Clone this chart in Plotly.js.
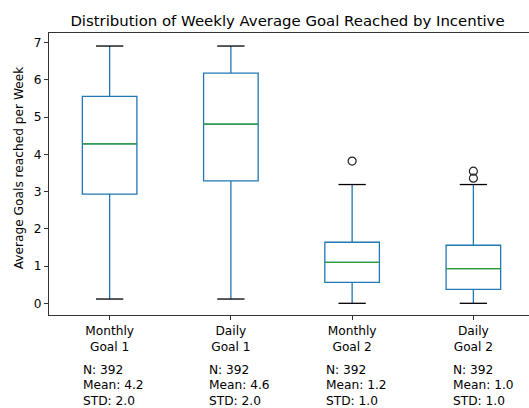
<!DOCTYPE html>
<html>
<head>
<meta charset="utf-8">
<script src="https://cdn.plot.ly/plotly-3.0.1.min.js"></script>
<style>
  html, body { margin: 0; padding: 0; overflow: hidden; background: #fff; }
  #chart { width: 540px; height: 408px; }
</style>
</head>
<body>
<div id="chart"></div>
<script>
// Weekly average goals reached, one box per incentive group
const categories = ["Monthly<br>Goal 1", "Daily<br>Goal 1", "Monthly<br>Goal 2", "Daily<br>Goal 2"];
const lowerWhisker = [0.115, 0.115, 0.0, 0.0];
const q1 = [2.93, 3.29, 0.564, 0.376];
const median = [4.28, 4.81, 1.10, 0.93];
const q3 = [5.56, 6.18, 1.64, 1.56];
const upperWhisker = [6.91, 6.91, 3.19, 3.19];
const outlierGroup = [3, 4, 4];
const outlierValue = [3.82, 3.55, 3.36];
const nObs = [392, 392, 392, 392];
const meanVal = [4.2, 4.6, 1.2, 1.0];
const stdVal = [2.0, 2.0, 1.0, 1.0];

const positions = categories.map((_, i) => i + 1);
const boxWidth = 0.45;

// horizontal segments centred on each box position
function segments(values, halfWidth) {
  const xs = [], ys = [];
  positions.forEach((p, i) => {
    xs.push(p - halfWidth, p + halfWidth, null);
    ys.push(values[i], values[i], null);
  });
  return { x: xs, y: ys };
}

const blue = '#1f77b4';
const green = '#2ca02c';
const lw = 1.3;

const boxes = {
  type: 'box',
  x: positions,
  q1: q1, median: median, q3: q3,
  lowerfence: lowerWhisker, upperfence: upperWhisker,
  width: boxWidth,
  whiskerwidth: 0,
  boxpoints: false,
  line: { color: blue, width: lw },
  fillcolor: 'rgba(0,0,0,0)',
  hoverinfo: 'skip',
  showlegend: false
};

const upperCaps = segments(upperWhisker, boxWidth / 4);
const lowerCaps = segments(lowerWhisker, boxWidth / 4);
const caps = {
  type: 'scatter', mode: 'lines',
  x: upperCaps.x.concat(lowerCaps.x),
  y: upperCaps.y.concat(lowerCaps.y),
  line: { color: '#000', width: lw },
  hoverinfo: 'skip', showlegend: false
};

const medSeg = segments(median, boxWidth / 2);
const medians = {
  type: 'scatter', mode: 'lines',
  x: medSeg.x, y: medSeg.y,
  line: { color: green, width: lw },
  hoverinfo: 'skip', showlegend: false
};

const fliers = {
  type: 'scatter', mode: 'markers',
  x: outlierGroup, y: outlierValue,
  marker: { symbol: 'circle-open', size: 8, color: '#222', line: { width: 1.2, color: '#222' } },
  hoverinfo: 'skip', showlegend: false
};

const font = { family: 'DejaVu Sans', size: 12.2, color: '#000' };

// plot area geometry (pixels) used to place free-floating labels
const W = 540, H = 408;
const M = { l: 49, r: 6, t: 33, b: 93 };
const plotH = H - M.t - M.b;
const plotW = W - M.l - M.r;
const yPaper = px => (H - M.b - px) / plotH;
const xPaper = px => (px - M.l) / plotW;

const statShift = [-28.6, -23.6, -28.3, -22.3];
const annotations = [];
positions.forEach((p, i) => {
  const lines = ['N: ' + nObs[i], 'Mean: ' + meanVal[i].toFixed(1), 'STD: ' + stdVal[i].toFixed(1)];
  lines.forEach((t, k) => {
    annotations.push({
      text: t, xref: 'x', yref: 'paper',
      x: p, y: yPaper(370 + 15.4 * k),
      xanchor: 'left', yanchor: 'middle', xshift: statShift[i],
      showarrow: false, font: font
    });
  });
});
annotations.push({
  text: 'Average Goals reached per Week',
  xref: 'paper', yref: 'paper',
  x: xPaper(19.3), y: yPaper(167),
  xanchor: 'center', yanchor: 'middle',
  textangle: -90, showarrow: false, font: font
});

const layout = {
  width: W, height: H,
  margin: M,
  paper_bgcolor: '#fff', plot_bgcolor: '#fff',
  font: font,
  title: {
    text: 'Distribution of Weekly Average Goal Reached by Incentive',
    font: { family: 'DejaVu Sans', size: 14.9, color: '#000' },
    xref: 'container', yref: 'container',
    x: 287.5 / W, y: 1 - 20.7 / H,
    xanchor: 'center', yanchor: 'middle'
  },
  xaxis: {
    range: [0.5, 4.5],
    tickmode: 'array', tickvals: positions, ticktext: categories,
    ticks: 'outside', ticklen: 4, tickwidth: 1, tickcolor: '#333',
    showline: true, linecolor: '#333', linewidth: 1, mirror: true,
    showgrid: false, zeroline: false,
    tickfont: font
  },
  yaxis: {
    range: [-0.314, 7.26],
    tickmode: 'array', tickvals: [0, 1, 2, 3, 4, 5, 6, 7],
    ticks: 'outside', ticklen: 4, tickwidth: 1, tickcolor: '#333',
    showline: true, linecolor: '#333', linewidth: 1, mirror: true,
    showgrid: false, zeroline: false,
    tickfont: font
  },
  annotations: annotations,
  showlegend: false
};

Plotly.newPlot('chart', [boxes, medians, caps, fliers], layout, { staticPlot: true, displayModeBar: false });
</script>
</body>
</html>
